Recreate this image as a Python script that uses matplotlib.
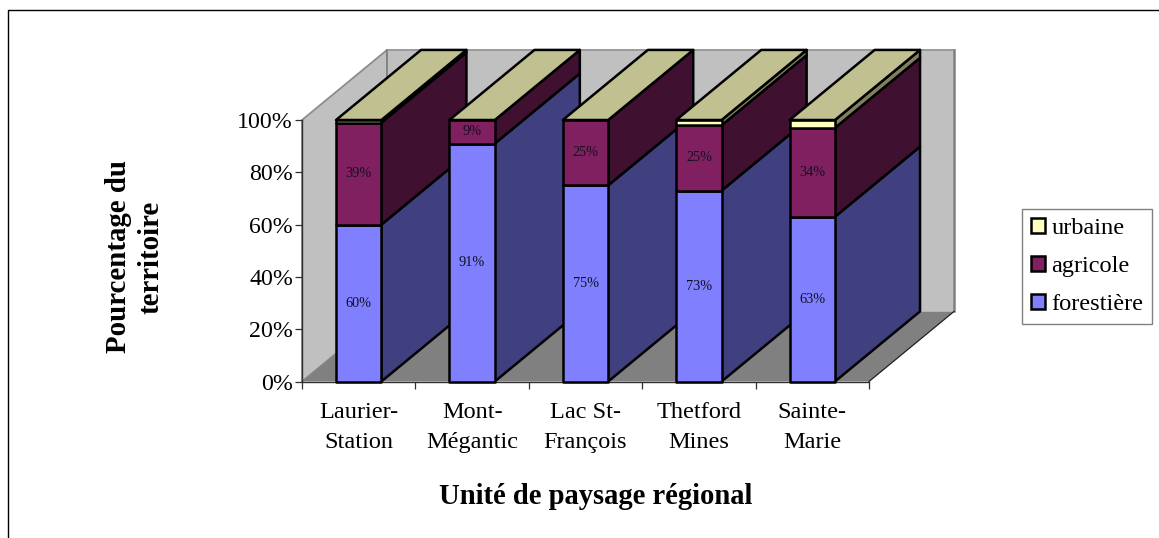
import matplotlib
matplotlib.use("Agg")
import matplotlib.pyplot as plt
from matplotlib.patches import Patch, Polygon
from matplotlib.lines import Line2D

units = ["Laurier-\nStation", "Mont-\nMégantic", "Lac St-\nFrançois", "Thetford\nMines", "Sainte-\nMarie"]
forestiere = [60, 91, 75, 73, 63]
agricole = [39, 9, 25, 25, 34]
urbaine = [1, 0, 0, 2, 3]
y_ticks = [0, 20, 40, 60, 80, 100]
y_labels = ["0%", "20%", "40%", "60%", "80%", "100%"]

W, H = 1159, 538

# oblique offset of the 3D look, in category / percent units
DX = 0.75
DY = 26.8
BAR_W = 0.4

plt.rcParams["font.family"] = "Liberation Serif"

fig = plt.figure(figsize=(W / 100, H / 100), dpi=100)
ax = fig.add_axes([302 / W, (H - 381.5) / H, 567 / W, 261.5 / H])
ax.set_xlim(0, 5)
ax.set_ylim(0, 100)
ax.patch.set_visible(False)


def poly(pts, color, edge="none", lw=0.0, z=1.0):
    ax.add_patch(Polygon(pts, closed=True, facecolor=color, edgecolor=edge, linewidth=lw,
                         joinstyle="round", clip_on=False, zorder=z))


# walls and floor
poly([(0, 0), (DX, DY), (DX, 100 + DY), (0, 100)], "#c0c0c0", "#8c8c8c", 1.3, 0.5)
poly([(DX, DY), (5 + DX, DY), (5 + DX, 100 + DY), (DX, 100 + DY)], "#c0c0c0", "none", 0, 0.6)
poly([(0, 0), (5, 0), (5 + DX, DY), (DX, DY)], "#808080", z=0.7)
ax.add_line(Line2D([DX, 5 + DX], [100 + DY, 100 + DY], color="#9a9a9a", lw=1.4, clip_on=False, zorder=0.65))
ax.add_line(Line2D([5 + DX, 5 + DX], [DY, 100 + DY], color="#808080", lw=1.8, clip_on=False, zorder=0.65))
ax.add_line(Line2D([DX, DX], [DY, 100 + DY], color="#808080", lw=1.3, clip_on=False, zorder=0.65))
ax.add_line(Line2D([5, 5 + DX], [0, DY], color="#202020", lw=0.9, clip_on=False, zorder=0.8))

colours = [("#8080ff", "#404080"), ("#802060", "#401030"), ("#ffffc0", "#808060")]
top_colour = "#c0c090"
edge = "black"
lw = 1.8


def draw_bar(x0, y0, y1, front, side, z):
    x1 = x0 + BAR_W
    poly([(x1, y0), (x1 + DX, y0 + DY), (x1 + DX, y1 + DY), (x1, y1)], side, edge, lw, z)
    poly([(x0, y0), (x1, y0), (x1, y1), (x0, y1)], front, edge, lw, z + 0.01)


for i, unit in enumerate(units):
    x0 = i + 0.5 - BAR_W / 2
    z = 3 + i
    base = 0
    for vals, (front, side) in zip([forestiere, agricole, urbaine], colours):
        v = vals[i]
        if v > 0:
            draw_bar(x0, base, base + v, front, side, z)
            if vals is not urbaine:
                ax.text(i + 0.5, base + v / 2, f"{v}%", ha="center", va="center",
                        fontsize=10.3, color="#101020", zorder=z + 0.5)
        base += v
        z += 0.1
    # lid of the stack
    poly([(x0, 100), (x0 + BAR_W, 100), (x0 + BAR_W + DX, 100 + DY), (x0 + DX, 100 + DY)],
         top_colour, edge, lw, z)

for s in ["top", "right"]:
    ax.spines[s].set_visible(False)
for s in ["left", "bottom"]:
    ax.spines[s].set_color("#303030")
    ax.spines[s].set_linewidth(1.0)

ax.set_yticks(y_ticks)
ax.set_yticklabels(y_labels, fontsize=17.2)
ax.set_xticks(range(6))
ax.set_xticklabels([])
ax.set_xticks([i + 0.5 for i in range(5)], labels=units, minor=True, fontsize=17.5, linespacing=1.55)
ax.tick_params(axis="x", which="major", length=5, width=0.9, color="#303030")
ax.tick_params(axis="x", which="minor", length=0, pad=15)
ax.tick_params(axis="y", length=5, width=0.9, color="#303030", pad=1.5)

fig.text(595.5 / W, 1 - 496 / H, "Unité de paysage régional", ha="center", va="center",
         fontsize=20.6, fontweight="bold")
fig.text(135 / W, 1 - 257 / H, "Pourcentage du\nterritoire", ha="center", va="center",
         rotation=90, fontsize=20.8, fontweight="bold", linespacing=1.25, multialignment="center")

handles = [Patch(facecolor=colours[2][0], edgecolor="black", linewidth=1.8, label="urbaine"),
           Patch(facecolor=colours[1][0], edgecolor="black", linewidth=1.8, label="agricole"),
           Patch(facecolor=colours[0][0], edgecolor="black", linewidth=1.8, label="forestière")]
fig.legend(handles=handles, loc="upper left", bbox_to_anchor=(1022 / W, 1 - 209 / H), borderaxespad=0,
           fontsize=17.6, frameon=True, fancybox=False, framealpha=1, edgecolor="#808080",
           handlelength=0.6, handleheight=0.6, handletextpad=0.24, labelspacing=0.68,
           borderpad=0.36)

# outer frame of the figure
fig.add_artist(Line2D([7.5 / W, 7.5 / W, 1], [0, 1 - 10 / H, 1 - 10 / H], color="black", lw=1.0))

fig.savefig("out.png", dpi=100)
